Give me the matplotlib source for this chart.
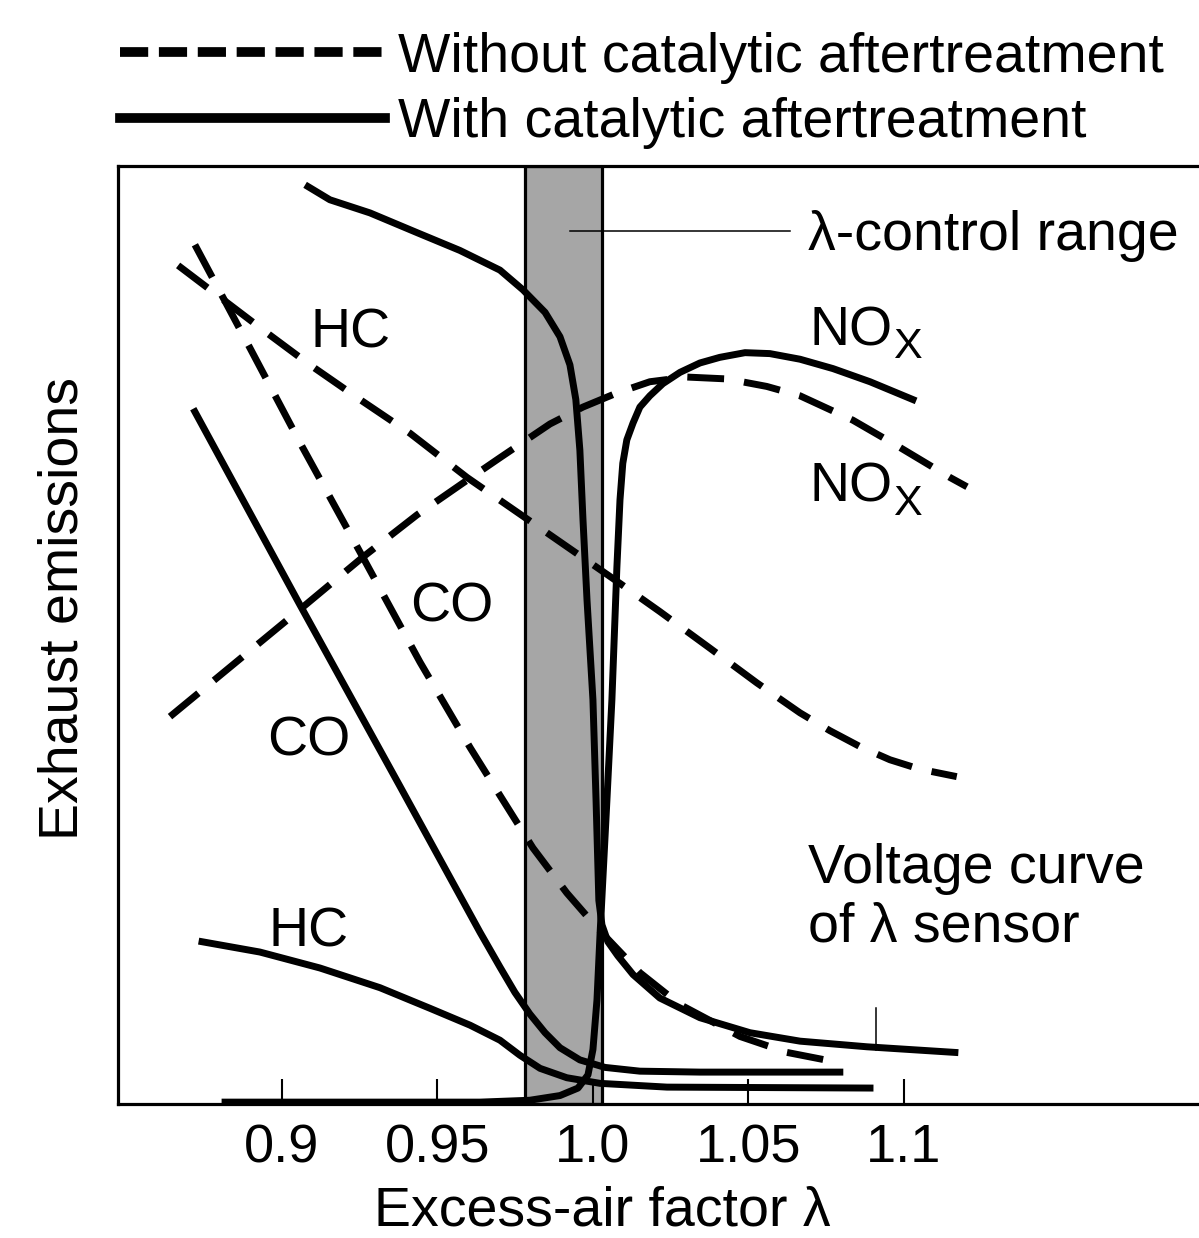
import matplotlib
matplotlib.use("Agg")
import matplotlib.pyplot as plt
from matplotlib.lines import Line2D

plt.rcParams['font.family'] = ['Liberation Sans', 'DejaVu Sans']

# ---------------- data (lambda, relative emission 0..100) ----------------
hc_raw_lam = [0.8666, 0.8952, 0.9090, 0.9251, 0.9412, 0.9595, 0.9839, 1.0087, 1.0215,
              1.0376, 1.0527, 1.0666, 1.0762, 1.0859, 1.0955, 1.1051, 1.1170]
hc_raw_val = [89.4, 82.2, 78.8, 75.1, 71.5, 66.8, 61.2, 55.5, 52.5,
              48.6, 44.9, 41.7, 39.8, 38.1, 36.7, 35.7, 34.9]

co_raw_lam = [0.8720, 0.8897, 0.9058, 0.9260, 0.9444, 0.9605, 0.9701, 0.9807, 0.9916,
              1.0013, 1.0151, 1.0280, 1.0473, 1.0624, 1.0778]
co_raw_val = [91.6, 80.6, 70.5, 58.3, 47.1, 38.0, 32.9, 27.3, 22.5,
              18.8, 14.0, 10.6, 7.2, 5.5, 4.5]

nox_raw_lam = [0.8640, 0.9068, 0.9260, 0.9434, 0.9582, 0.9701, 0.9862, 0.9968, 1.0077,
               1.0183, 1.0302, 1.0431, 1.0559, 1.0666, 1.0836, 1.0987, 1.1148, 1.1203]
nox_raw_val = [41.3, 53.0, 58.3, 62.8, 66.2, 68.9, 72.5, 74.3, 75.8,
               77.0, 77.5, 77.3, 76.5, 75.5, 72.9, 70.0, 66.8, 65.8]

sensor_lam = [0.9084, 0.9154, 0.9283, 0.9434, 0.9572, 0.9701, 0.9775, 0.9846, 0.9894,
              0.9926, 0.9945, 0.9958, 0.9968, 0.9981, 1.0000, 1.0010, 1.0019, 1.0029,
              1.0048, 1.0080, 1.0129, 1.0215, 1.0344, 1.0505, 1.0666, 1.0881, 1.1164]
sensor_val = [97.8, 96.4, 95.0, 92.9, 91.0, 88.9, 86.8, 84.4, 81.8,
              78.8, 75.1, 69.7, 62.3, 53.7, 43.1, 32.4, 21.7, 19.1,
              17.3, 15.8, 13.8, 11.3, 9.2, 7.6, 6.7, 6.1, 5.5]

nox_cat_lam = [0.8817, 0.9637, 0.9797, 0.9894, 0.9952, 0.9984, 1.0000, 1.0013, 1.0023,
               1.0045, 1.0061, 1.0077, 1.0087, 1.0096, 1.0109, 1.0129, 1.0151, 1.0183,
               1.0225, 1.0280, 1.0344, 1.0408, 1.0489, 1.0569, 1.0666, 1.0772, 1.0891,
               1.1029]
nox_cat_val = [0.2, 0.2, 0.4, 0.9, 1.7, 3.1, 5.8, 11.1, 18.2,
               32.4, 43.1, 57.2, 64.4, 68.3, 70.8, 72.6, 74.3, 75.5,
               76.8, 78.0, 79.0, 79.6, 80.1, 80.0, 79.4, 78.4, 77.0,
               75.1]

co_cat_lam = [0.8720, 0.9058, 0.9379, 0.9637, 0.9701, 0.9749, 0.9797, 0.9846, 0.9894,
              0.9958, 1.0039, 1.0151, 1.0344, 1.0794]
co_cat_val = [73.8, 53.2, 33.9, 18.3, 14.6, 11.9, 9.6, 7.6, 6.0,
              4.7, 3.9, 3.5, 3.4, 3.4]

hc_cat_lam = [0.8743, 0.8929, 0.9122, 0.9315, 0.9476, 0.9605, 0.9701, 0.9765, 0.9830,
              0.9916, 1.0023, 1.0238, 1.0891]
hc_cat_val = [17.3, 16.2, 14.5, 12.4, 10.2, 8.4, 6.8, 5.2, 3.8,
              2.8, 2.2, 1.8, 1.7]

control_range = (0.978, 1.003)
tick_values = [0.9, 0.95, 1.0, 1.05, 1.1]
tick_labels = ["0.9", "0.95", "1.0", "1.05", "1.1"]

# ---------------- figure ----------------
W, H = 1199, 1238
fig = plt.figure(figsize=(W / 100, H / 100), dpi=100)
ax = fig.add_axes([118 / W, 1 - 1104 / H, 1 - 118 / W, (1104 - 166) / H])
ax.set_xlim(0.84727, 1.1949)
ax.set_ylim(0, 100)

lw = 5.0
dash = (0, (5.3, 2.9))
kw_solid = dict(color='black', lw=lw, zorder=3, solid_joinstyle='round')
kw_dash = dict(color='black', lw=lw, zorder=3, linestyle=dash, dash_joinstyle='round')

ax.axvspan(*control_range, facecolor='#a6a6a6', edgecolor='black', linewidth=2.3, zorder=1)

ax.plot(hc_raw_lam, hc_raw_val, **kw_dash)
ax.plot(co_raw_lam, co_raw_val, **kw_dash)
ax.plot(nox_raw_lam, nox_raw_val, **kw_dash)
ax.plot(sensor_lam, sensor_val, **kw_solid)
ax.plot(nox_cat_lam, nox_cat_val, **kw_solid)
ax.plot(co_cat_lam, co_cat_val, **kw_solid)
ax.plot(hc_cat_lam, hc_cat_val, **kw_solid)

# spines and ticks
for s in ['left', 'top', 'bottom']:
    ax.spines[s].set_linewidth(2.3)
ax.spines['right'].set_visible(False)
ax.set_yticks([])
ax.set_xticks(tick_values)
ax.set_xticklabels(tick_labels)
ax.tick_params(axis='x', direction='in', length=18, width=1.5, pad=14, labelsize=39)

fs = 40
# annotations
ax.plot([0.9926, 1.0633], [93.1, 93.1], color='black', lw=1.1, zorder=4)
ax.text(1.0691, 91.0, "λ-control range", fontsize=fs, va='baseline', ha='left')
ax.plot([1.0910, 1.0910], [5.8, 10.2], color='black', lw=1.1, zorder=4)
ax.text(1.0691, 23.6, "Voltage curve", fontsize=fs, va='baseline', ha='left')
ax.text(1.0691, 17.3, "of λ sensor", fontsize=fs, va='baseline', ha='left')

ax.text(0.9219, 80.6, "HC", fontsize=fs, va='baseline', ha='center')
ax.text(0.9547, 51.4, "CO", fontsize=fs, va='baseline', ha='center')
ax.text(0.9087, 37.2, "CO", fontsize=fs, va='baseline', ha='center')
ax.text(0.9084, 16.8, "HC", fontsize=fs, va='baseline', ha='center')
ax.text(1.0698, 80.9, "NO", fontsize=fs, va='baseline', ha='left')
ax.text(1.0965, 79.5, "X", fontsize=31, va='baseline', ha='left')
ax.text(1.0698, 64.2, "NO", fontsize=fs, va='baseline', ha='left')
ax.text(1.0965, 62.8, "X", fontsize=31, va='baseline', ha='left')

# axis labels
fig.text(602 / W, 1 - 1225 / H, "Excess-air factor λ", fontsize=fs, ha='center', va='baseline')
fig.text(64 / W, 1 - 608 / H, "Exhaust emissions", fontsize=fs, rotation=90, ha='center', va='center')

# legend
fig.add_artist(Line2D([120 / W, 385 / W], [1 - 52 / H, 1 - 52 / H], color='black', lw=7,
                      linestyle=(0, (2.9, 1.1)), transform=fig.transFigure))
fig.add_artist(Line2D([120 / W, 385 / W], [1 - 118 / H, 1 - 118 / H], color='black', lw=7,
                      transform=fig.transFigure))
fig.text(398 / W, 1 - 72 / H, "Without catalytic aftertreatment", fontsize=fs, ha='left', va='baseline')
fig.text(398 / W, 1 - 137 / H, "With catalytic aftertreatment", fontsize=fs, ha='left', va='baseline')

fig.savefig("out.png", dpi=100)
